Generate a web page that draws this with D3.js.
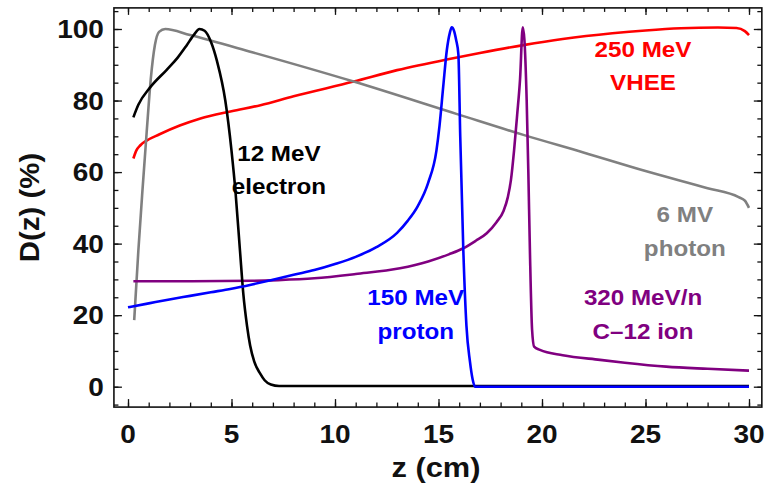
<!DOCTYPE html>
<html>
<head>
<meta charset="utf-8">
<script src="https://cdn.jsdelivr.net/npm/d3@7"></script>
<style>
  body { margin: 0; background: #fff; }
  text { font-family: "Liberation Sans", Arial, sans-serif; font-weight: bold; }
</style>
</head>
<body>
<svg id="chart" width="765" height="497"></svg>
<script>
// depth-dose curves: [z (cm), D (%)]
const vheeDose = [
  [0.26, 63.8], [0.4, 66], [0.6, 67.5], [0.9, 68.8], [1.5, 70.5], [2.5, 73], [3.5, 75],
  [5, 77], [6.4, 78.7], [8, 81.2], [10.9, 85.3], [13, 88.5], [15.4, 91.5], [17, 93.3],
  [19.1, 95.5], [21, 97.2], [23.4, 98.8], [25, 99.6], [26.7, 100.2], [28.5, 100.4],
  [29.4, 100.3], [29.8, 99.4], [30, 98.3]
];
const photonDose = [
  [0.3, 18.6], [0.5, 38], [0.7, 55], [0.9, 71], [1.1, 86], [1.3, 95.5], [1.5, 99.2],
  [1.8, 100], [3, 98.3], [6, 93.5], [10.9, 85.3], [15.9, 76.2], [19.1, 70.4], [22, 65.5],
  [25, 60.3], [28, 55.5], [29.5, 53], [29.8, 52], [30, 50]
];
const electronDose = [
  [0.26, 75.3], [0.5, 78.8], [1.06, 83.6], [1.87, 88.6], [2.4, 92], [2.83, 95.4],
  [3.2, 98.5], [3.45, 100], [3.7, 99.5], [4.0, 96.5], [4.3, 91], [4.7, 80], [5.0, 66],
  [5.2, 54], [5.41, 38], [5.57, 26], [5.75, 17], [5.9, 11.5], [6.1, 7], [6.38, 3.7],
  [6.6, 1.8], [6.9, 0.6], [7.3, 0.2], [30, 0.2]
];
const carbonDose = [
  [0.26, 29.5], [3, 29.5], [6, 29.6], [7.25, 29.8], [9, 30.3], [11, 31.5], [13.14, 33.1],
  [14.5, 35], [15.5, 37], [16.2, 38.7], [16.8, 40.8], [17.33, 42.9], [17.8, 46],
  [18.13, 49], [18.35, 53], [18.5, 57.8], [18.65, 66], [18.8, 76], [18.94, 86],
  [19.07, 100.5], [19.15, 97], [19.26, 80], [19.34, 60], [19.42, 37], [19.52, 16],
  [19.62, 11.2], [19.9, 10.3], [21, 8.8], [22.8, 7.5], [24, 6.7], [26, 5.6], [28, 5], [30, 4.5]
];
const protonDose = [
  [0, 22.2], [1, 23.3], [2, 24.4], [3, 25.4], [4, 26.4], [5, 27.4], [6, 28.6], [7, 29.9],
  [8, 31.3], [9, 32.6], [10, 34.3], [11, 36.3], [12, 39], [13, 43], [13.5, 46.3], [14, 50.5],
  [14.5, 57], [14.9, 66], [15.05, 73], [15.23, 84], [15.4, 94], [15.55, 99], [15.64, 100.5],
  [15.75, 99.5], [15.85, 97], [15.96, 93], [16.05, 70], [16.2, 38], [16.35, 17],
  [16.52, 7], [16.65, 2], [16.76, 0], [30, 0]
];

const xMajorTicks = [0, 5, 10, 15, 20, 25, 30];
const xTickLabels = ["0", "5", "10", "15", "20", "25", "30"];
const yMajorTicks = [0, 20, 40, 60, 80, 100];
const yTickLabels = ["0", "20", "40", "60", "80", "100"];

// label text per curve, first line anchor in data units
const curveLabels = [
  { key: "electron", lines: ["12 MeV", "electron"], z: 7.29, d: 63.2 },
  { key: "proton", lines: ["150 MeV", "proton"], z: 13.9, d: 22.8 },
  { key: "carbon", lines: ["320 MeV/n", "C\u201312 ion"], z: 24.88, d: 22.8 },
  { key: "vhee", lines: ["250 MeV", "VHEE"], z: 24.88, d: 92.3 },
  { key: "photon", lines: ["6 MV", "photon"], z: 26.9, d: 46.1 }
];

const colors = {
  vhee: "#ff0000",
  photon: "#808080",
  electron: "#000000",
  carbon: "#800080",
  proton: "#0000ff"
};

const svg = d3.select("#chart");

const x = d3.scaleLinear().domain([0, 30]).range([128, 749]);
const y = d3.scaleLinear().domain([0, 100]).range([386.7, 29]);

// frame extents (Mathematica style padding around the data range)
const zMin = -0.68, zMax = 30.62, dMin = -5.7, dMax = 105.9;
const frameLeft = x(zMin), frameRight = x(zMax), frameTop = y(dMax), frameBottom = y(dMin);

const textStretch = 1.12;

// minor / major ticks on all four sides, pointing inward
function tickAxis(axisFn, scale, values, size, transform) {
  const g = svg.append("g")
    .attr("transform", transform)
    .call(axisFn(scale).tickValues(values).tickSize(size).tickFormat(""));
  g.select(".domain").remove();
  g.selectAll(".tick line").attr("stroke", "#111").attr("stroke-width", 1.3);
}

const xMinor = d3.range(0, 31, 1);
const yMinor = d3.range(-5, 106, 5).filter(v => y(v) < frameBottom - 1 && y(v) > frameTop + 1);

tickAxis(d3.axisBottom, x, xMinor, -4.5, "translate(0," + frameBottom + ")");
tickAxis(d3.axisBottom, x, xMajorTicks, -8, "translate(0," + frameBottom + ")");
tickAxis(d3.axisTop, x, xMinor, -4, "translate(0," + frameTop + ")");
tickAxis(d3.axisTop, x, xMajorTicks, -7, "translate(0," + frameTop + ")");
tickAxis(d3.axisLeft, y, yMinor, -4.5, "translate(" + frameLeft + ",0)");
tickAxis(d3.axisLeft, y, yMajorTicks, -8, "translate(" + frameLeft + ",0)");
tickAxis(d3.axisRight, y, yMinor, -4.5, "translate(" + frameRight + ",0)");
tickAxis(d3.axisRight, y, yMajorTicks, -8, "translate(" + frameRight + ",0)");

// curves
const line = d3.line()
  .x(d => x(d[0]))
  .y(d => y(d[1]))
  .curve(d3.curveMonotoneX);

const series = [
  { key: "vhee", values: vheeDose },
  { key: "photon", values: photonDose },
  { key: "carbon", values: carbonDose },
  { key: "electron", values: electronDose },
  { key: "proton", values: protonDose }
];

svg.append("g")
  .selectAll("path")
  .data(series)
  .enter()
  .append("path")
  .attr("d", d => line(d.values))
  .attr("fill", "none")
  .attr("stroke", d => colors[d.key])
  .attr("stroke-width", 2.6)
  .attr("stroke-linejoin", "round");

// frame
svg.append("rect")
  .attr("x", frameLeft)
  .attr("y", frameTop)
  .attr("width", frameRight - frameLeft)
  .attr("height", frameBottom - frameTop)
  .attr("fill", "none")
  .attr("stroke", "#111")
  .attr("stroke-width", 1.6);

// tick labels
svg.append("g")
  .selectAll("text")
  .data(xMajorTicks)
  .enter()
  .append("text")
  .attr("transform", d => "translate(" + x(d) + ",443) scale(" + textStretch + ",1)")
  .attr("text-anchor", "middle")
  .attr("font-size", 25)
  .attr("fill", "#111")
  .text((d, i) => xTickLabels[i]);

svg.append("g")
  .selectAll("text")
  .data(yMajorTicks)
  .enter()
  .append("text")
  .attr("transform", d => "translate(" + (frameLeft - 10) + "," + y(d) + ") scale(" + textStretch + ",1)")
  .attr("text-anchor", "end")
  .attr("dy", "0.36em")
  .attr("font-size", 25)
  .attr("fill", "#111")
  .text((d, i) => yTickLabels[i]);

// axis titles
svg.append("text")
  .attr("transform", "translate(436,477) scale(1.1,1)")
  .attr("text-anchor", "middle")
  .attr("font-size", 28)
  .attr("fill", "#111")
  .text("z (cm)");

svg.append("text")
  .attr("transform", "translate(38.5," + ((frameTop + frameBottom) / 2) + ") rotate(-90) scale(1.05,1)")
  .attr("text-anchor", "middle")
  .attr("font-size", 28)
  .attr("fill", "#111")
  .text("D(z) (%)");

// curve labels
const labelG = svg.append("g")
  .selectAll("g")
  .data(curveLabels)
  .enter()
  .append("g")
  .attr("transform", d => "translate(" + x(d.z) + "," + y(d.d) + ")");

labelG.selectAll("text")
  .data(d => d.lines.map((t, i) => ({ t: t, i: i, key: d.key })))
  .enter()
  .append("text")
  .attr("transform", d => "translate(0," + (d.i * 33.8) + ") scale(1.1,1)")
  .attr("text-anchor", "middle")
  .attr("font-size", 22)
  .attr("fill", d => colors[d.key])
  .text(d => d.t);
</script>
</body>
</html>
